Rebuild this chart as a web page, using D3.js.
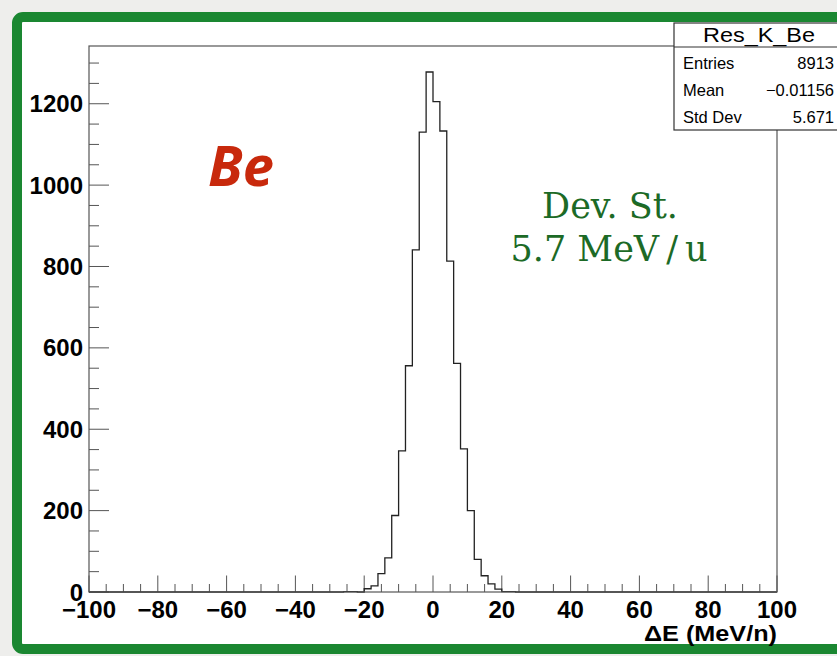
<!DOCTYPE html>
<html>
<head>
<meta charset="utf-8">
<script src="https://cdn.jsdelivr.net/npm/d3@7"></script>
<style>
  html, body { margin: 0; padding: 0; background: #eeeeec; }
  svg { display: block; }
</style>
</head>
<body>
<div id="chart"></div>
<script>
// histogram Res_K_Be : non-empty bins (lower edge, MeV/n) and their counts
var binStart = [-26, -24, -22, -20, -18, -16, -14, -12, -10, -8, -6, -4, -2,
                0, 2, 4, 6, 8, 10, 12, 14, 16, 18, 20, 22];
var counts   = [1, 1, 0, 8, 15, 45, 84, 188, 347, 556, 841, 1130, 1278,
                1205, 1133, 813, 562, 352, 200, 80, 40, 20, 7, 1, 1];
var binWidth = 2;
var xRange = [-100, 100];

var xMajor = [-100, -80, -60, -40, -20, 0, 20, 40, 60, 80, 100];
var yMajor = [0, 200, 400, 600, 800, 1000, 1200];

var statsTitle = "Res_K_Be";
var statsLabels = ["Entries", "Mean", "Std Dev"];
var statsValues = ["8913", "\u22120.01156", "5.671"];

(function () {
  var width = 837, height = 656;
  var pLeft = 89, pRight = 777, pTop = 46, pBottom = 592;

  var svg = d3.select('#chart').append('svg')
    .attr('width', width)
    .attr('height', height);

  // slide frame
  svg.append('rect')
    .attr('x', 17).attr('y', 17)
    .attr('width', 840).attr('height', 632)
    .attr('rx', 6).attr('ry', 6)
    .style('fill', '#fff')
    .style('stroke', '#1a8731')
    .style('stroke-width', 10);

  var x = d3.scaleLinear().domain(xRange).range([pLeft, pRight]);
  var y = d3.scaleLinear().domain([0, d3.max(counts) * 1.05]).range([pBottom, pTop]);

  // tick marks (ROOT style: inside the frame)
  var g = svg.append('g').style('stroke', '#555').style('stroke-width', 1);

  var xMinor = d3.range(xRange[0], xRange[1] + 1, 5);
  g.selectAll('.xt').data(xMinor).enter().append('line')
    .attr('x1', function (d) { return x(d); })
    .attr('x2', function (d) { return x(d); })
    .attr('y1', pBottom)
    .attr('y2', function (d) { return d % 20 === 0 ? pBottom - 16.5 : pBottom - 8; });

  var yMinor = d3.range(0, y.domain()[1], 50);
  g.selectAll('.yt').data(yMinor).enter().append('line')
    .attr('y1', function (d) { return y(d); })
    .attr('y2', function (d) { return y(d); })
    .attr('x1', pLeft)
    .attr('x2', function (d) { return d % 200 === 0 ? pLeft + 20 : pLeft + 10; });

  // histogram outline
  var pts = [[xRange[0], 0]];
  binStart.forEach(function (b, i) { pts.push([b, counts[i]]); });
  pts.push([binStart[binStart.length - 1] + binWidth, 0]);
  pts.push([xRange[1], 0]);

  var line = d3.line()
    .x(function (d) { return x(d[0]); })
    .y(function (d) { return y(d[1]); })
    .curve(d3.curveStepAfter);

  svg.append('path')
    .attr('d', line(pts))
    .style('fill', 'none')
    .style('stroke', '#222')
    .style('stroke-width', 1.3);

  // frame
  svg.append('rect')
    .attr('x', pLeft).attr('y', pTop)
    .attr('width', pRight - pLeft).attr('height', pBottom - pTop)
    .style('fill', 'none')
    .style('stroke', '#555')
    .style('stroke-width', 1.2);

  // tick labels
  svg.selectAll('.xl').data(xMajor).enter().append('text')
    .attr('x', function (d) { return x(d); })
    .attr('y', 618)
    .attr('text-anchor', 'middle')
    .style('font-family', '"Liberation Sans", Arial, sans-serif')
    .style('font-weight', 'bold')
    .style('font-size', '24px')
    .text(function (d) { return d < 0 ? '\u2212' + (-d) : d; });

  svg.selectAll('.yl').data(yMajor).enter().append('text')
    .attr('x', pLeft - 6)
    .attr('y', function (d) { return y(d) + 8.5; })
    .attr('text-anchor', 'end')
    .style('font-family', '"Liberation Sans", Arial, sans-serif')
    .style('font-weight', 'bold')
    .style('font-size', '24px')
    .text(function (d) { return d; });

  svg.append('text')
    .attr('x', pRight).attr('y', 641)
    .attr('text-anchor', 'end')
    .attr('textLength', 133)
    .attr('lengthAdjust', 'spacingAndGlyphs')
    .style('font-family', '"Liberation Sans", Arial, sans-serif')
    .style('font-weight', 'bold')
    .style('font-size', '22px')
    .text('\u0394E (MeV/n)');

  // stats box
  var sb = svg.append('g');
  sb.append('rect')
    .attr('x', 674).attr('y', 23)
    .attr('width', 180).attr('height', 107)
    .style('fill', '#fff')
    .style('stroke', '#333')
    .style('stroke-width', 1.2);
  sb.append('line')
    .attr('x1', 674).attr('x2', 854)
    .attr('y1', 47).attr('y2', 47)
    .style('stroke', '#333').style('stroke-width', 1.2);
  sb.append('text')
    .attr('x', 759).attr('y', 42)
    .attr('text-anchor', 'middle')
    .attr('textLength', 112)
    .attr('lengthAdjust', 'spacingAndGlyphs')
    .style('font-family', '"Liberation Sans", Arial, sans-serif')
    .style('font-size', '21px')
    .text(statsTitle);
  sb.selectAll('.sl').data(statsLabels).enter().append('text')
    .attr('x', 683)
    .attr('y', function (d, i) { return 69 + i * 27; })
    .style('font-family', '"Liberation Sans", Arial, sans-serif')
    .style('font-size', '16.5px')
    .text(function (d) { return d; });
  sb.selectAll('.sv').data(statsValues).enter().append('text')
    .attr('x', 834)
    .attr('y', function (d, i) { return 69 + i * 27; })
    .attr('text-anchor', 'end')
    .style('font-family', '"Liberation Sans", Arial, sans-serif')
    .style('font-size', '16.5px')
    .text(function (d) { return d; });

  // annotations
  svg.append('text')
    .attr('x', 208).attr('y', 186)
    .style('font-family', '"Open Sans", Lato, sans-serif')
    .style('font-weight', 'bold')
    .style('font-style', 'italic')
    .style('font-size', '56px')
    .style('fill', '#c8290c')
    .text('Be');

  var ann = svg.append('text')
    .attr('text-anchor', 'middle')
    .style('font-family', '"DejaVu Serif", "Liberation Serif", serif')
    .style('font-size', '35px')
    .style('fill', '#1c6a26');
  ann.append('tspan').attr('x', 610).attr('y', 218).text('Dev. St.');
  ann.append('tspan').attr('x', 609).attr('y', 261).text('5.7 MeV\u2009/\u2009u');
})();
</script>
</body>
</html>
